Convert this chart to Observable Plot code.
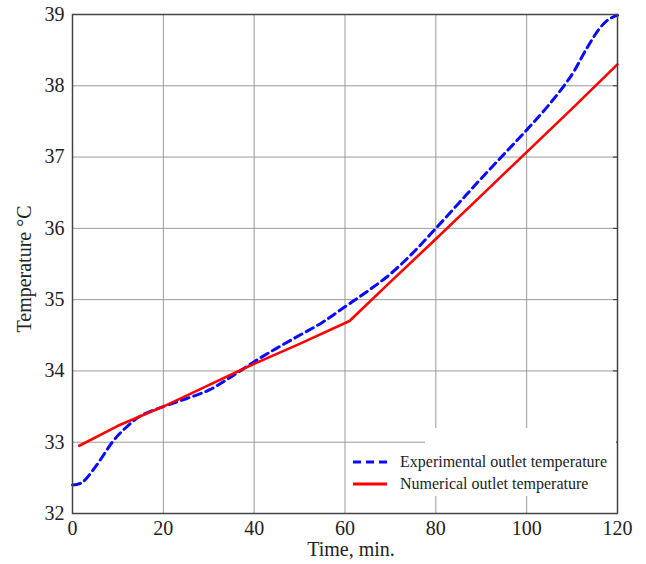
<!DOCTYPE html>
<html>
<head>
<meta charset="utf-8">
<script src="https://cdn.jsdelivr.net/npm/d3@7"></script>
<script src="https://cdn.jsdelivr.net/npm/@observablehq/plot@0.6"></script>
<style>
  html, body { margin: 0; padding: 0; background: #fff; }
  #wrap { position: relative; width: 646px; height: 564px; font-family: "Liberation Serif", serif; }
  #wrap svg text { font-family: "Liberation Serif", serif !important; }
  #cover { position: absolute; left: 425px; top: 428px; width: 191px; height: 68px; background: #fff; }
  #legend { position: absolute; left: 352px; top: 451px; font-size: 16px; color: #222; line-height: 22px; }
  #legend .item { display: flex; align-items: center; white-space: nowrap; }
  #legend svg { margin-right: 12px; }
</style>
</head>
<body>
<div id="wrap"></div>
<script>
// Experimental outlet temperature (blue dashed)
const expTime = [0, 2, 5, 9, 12, 15, 20, 25, 30, 35, 40, 45, 50, 55, 60, 65, 70, 75, 80, 85, 90, 95, 100, 105, 110, 113, 116, 118, 120];
const expTemp = [32.4, 32.43, 32.65, 33.02, 33.22, 33.37, 33.5, 33.61, 33.73, 33.92, 34.13, 34.32, 34.5, 34.68, 34.9, 35.12, 35.36, 35.66, 36.0, 36.35, 36.7, 37.04, 37.38, 37.74, 38.16, 38.5, 38.8, 38.93, 38.99];
// Numerical outlet temperature (red solid)
const numTime = [1.5, 10, 20, 30, 40, 50, 61, 70, 80, 90, 100, 110, 120];
const numTemp = [32.95, 33.23, 33.5, 33.8, 34.1, 34.38, 34.7, 35.25, 35.85, 36.46, 37.07, 37.68, 38.3];

const xTicks = [0, 20, 40, 60, 80, 100, 120];
const yTicks = [32, 33, 34, 35, 36, 37, 38, 39];
const seriesNames = ["Experimental outlet temperature", "Numerical outlet temperature"];

const expData = expTime.map((t, i) => ({t, v: expTemp[i]}));
const numData = numTime.map((t, i) => ({t, v: numTemp[i]}));

const chart = Plot.plot({
  width: 646,
  height: 564,
  marginLeft: 72,
  marginRight: 29,
  marginTop: 14,
  marginBottom: 51,
  style: {fontFamily: "Liberation Serif, serif", fontSize: "20px", color: "#222", background: "#fff"},
  x: {domain: [0, 120]},
  y: {domain: [32, 39]},
  marks: [
    Plot.gridX(xTicks, {stroke: "#9a9a9a", strokeOpacity: 1, strokeWidth: 1}),
    Plot.gridY(yTicks, {stroke: "#9a9a9a", strokeOpacity: 1, strokeWidth: 1}),
    Plot.axisX(xTicks, {tickSize: 0, tickPadding: 7, fontSize: 20, tickFormat: d => String(d), label: null, fill: "#222"}),
    Plot.axisY(yTicks, {tickSize: 0, tickPadding: 8, fontSize: 20, tickFormat: d => String(d), label: null, fill: "#222"}),
    Plot.axisY(yTicks, {anchor: "right", tickSize: 5, dx: -5, text: null, label: null, stroke: "#333"}),
    Plot.line(expData, {x: "t", y: "v", stroke: "#0a0aff", strokeWidth: 3, strokeDasharray: "8,5", curve: "catmull-rom"}),
    Plot.line(numData, {x: "t", y: "v", stroke: "#ff0000", strokeWidth: 2.6}),
    Plot.frame({stroke: "#444", strokeWidth: 1.5})
  ]
});

const wrap = document.getElementById("wrap");
wrap.appendChild(chart);

const svg = d3.select(chart);
svg.attr("font-family", "Liberation Serif, serif");
svg.selectAll("g").attr("font-family", "Liberation Serif, serif");

// axis titles as real text
svg.append("text")
  .attr("x", 351).attr("y", 556)
  .attr("text-anchor", "middle")
  .attr("font-size", 20)
  .attr("fill", "#222")
  .text("Time, min.");
svg.append("text")
  .attr("transform", "translate(31,269) rotate(-90)")
  .attr("text-anchor", "middle")
  .attr("font-size", 20)
  .attr("fill", "#222")
  .text("Temperature °C");
svg.selectAll("text").attr("font-family", "Liberation Serif, serif").style("font-family", "'Liberation Serif', serif");

const cover = document.createElement("div");
cover.id = "cover";
wrap.appendChild(cover);

const legend = document.createElement("div");
legend.id = "legend";
legend.innerHTML = `
  <div class="item"><svg width="36" height="6"><line x1="1" y1="3" x2="35" y2="3" stroke="#0a0aff" stroke-width="3" stroke-dasharray="8,5"/></svg>${seriesNames[0]}</div>
  <div class="item"><svg width="36" height="6"><line x1="1" y1="3" x2="35" y2="3" stroke="#ff0000" stroke-width="3"/></svg>${seriesNames[1]}</div>`;
wrap.appendChild(legend);
</script>
</body>
</html>
